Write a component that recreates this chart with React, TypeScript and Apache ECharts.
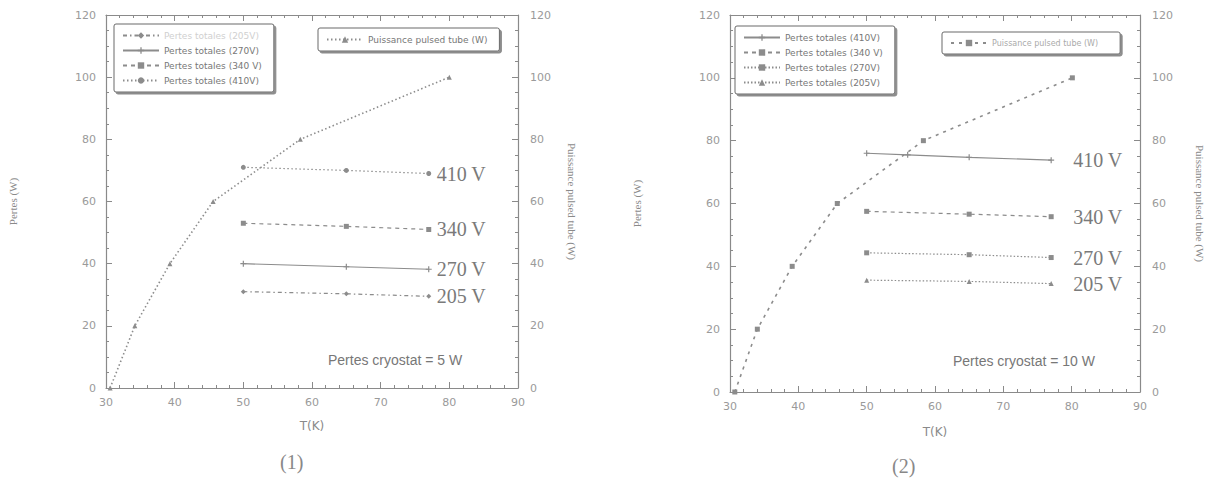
import React, { useEffect, useRef } from "react";
import * as echarts from "echarts";

// ---- Data: chart (1) ----
const T_PT_1 = [30.6, 34.2, 39.3, 45.6, 58.3, 80];
const P_PT_1 = [0, 20, 40, 60, 80, 100];
const T_V_1 = [50, 65, 77];
const L410_1 = [71, 70, 69];
const L340_1 = [53, 52, 51];
const L270_1 = [40, 39, 38.2];
const L205_1 = [31, 30.3, 29.5];

// ---- Data: chart (2) ----
const T_PT_2 = [30.7, 34.0, 39.1, 45.7, 58.3, 80.1];
const P_PT_2 = [0, 20, 40, 60, 80, 100];
const T_V_2 = [50, 65, 77];
const T_410_2 = [50, 56, 65, 77];
const L410_2 = [76, 75.5, 74.7, 73.8];
const L340_2 = [57.5, 56.6, 55.8];
const L270_2 = [44.3, 43.7, 42.8];
const L205_2 = [35.6, 35.2, 34.5];

const X_TICKS = [30, 90, 10];
const Y_TICKS = [0, 120, 20];

const zip = (xs: number[], ys: number[]) => xs.map((x, i) => [x, ys[i]]);

const AX = "#8a8a8a";
const LBL = "#9a9a9a";
const LINE = "#8c8c8c";
const SERIF = "'Liberation Serif', 'DejaVu Serif', serif";
const SANS = "'DejaVu Sans', Arial, sans-serif";
const ARIAL = "'Liberation Sans', Arial, sans-serif";
const CROSS = "path://M4,0H6V4H10V6H6V10H4V6H0V4H4Z";

function xAxis(grid: number, pos: "bottom" | "top", name?: string, gap?: number) {
  return {
    type: "value",
    gridIndex: grid,
    position: pos,
    min: X_TICKS[0],
    max: X_TICKS[1],
    interval: X_TICKS[2],
    name: name || "",
    nameLocation: "middle",
    nameGap: gap || 0,
    nameTextStyle: { color: "#8a8a8a", fontFamily: SANS, fontSize: 12 },
    axisLine: { show: true, onZero: false, lineStyle: { color: AX, width: 1.2 } },
    axisTick: { show: true, inside: true, length: 6, lineStyle: { color: AX } },
    minorTick: { show: true, splitNumber: 5, length: 3, lineStyle: { color: AX } },
    splitLine: { show: false },
    minorSplitLine: { show: false },
    axisLabel: { show: pos === "bottom", color: LBL, fontSize: 11, fontFamily: SANS, margin: 9 },
  };
}

function yAxis(grid: number, pos: "left" | "right", name: string, gap: number, rotate: number) {
  return {
    type: "value",
    gridIndex: grid,
    position: pos,
    min: Y_TICKS[0],
    max: Y_TICKS[1],
    interval: Y_TICKS[2],
    name,
    nameLocation: "middle",
    nameGap: gap,
    nameRotate: rotate,
    nameTextStyle: { color: "#8a8a8a", fontFamily: SERIF, fontSize: 11 },
    axisLine: { show: true, onZero: false, lineStyle: { color: AX, width: 1.2 } },
    axisTick: { show: true, inside: true, length: 6, lineStyle: { color: AX } },
    minorTick: { show: true, splitNumber: 4, length: 3, lineStyle: { color: AX } },
    splitLine: { show: false },
    axisLabel: { color: LBL, fontSize: 11, fontFamily: SANS, margin: pos === "left" ? 10 : 12 },
  };
}

function endLbl(text: string, dist: number) {
  return {
    show: true,
    formatter: text,
    distance: dist,
    color: "#7a7a7a",
    fontFamily: SERIF,
    fontSize: 20,
  };
}

function lineSeries(
  name: string,
  data: number[][],
  xi: number,
  yi: number,
  type: any,
  symbol: string,
  size: number,
  extra: any = {}
) {
  return {
    type: "line",
    name,
    xAxisIndex: xi,
    yAxisIndex: yi,
    data,
    symbol,
    symbolSize: size,
    showAllSymbol: true,
    itemStyle: { color: LINE },
    lineStyle: { color: LINE, width: 1.2, type },
    emphasis: { disabled: true },
    ...extra,
  };
}

const legendBase = {
  orient: "vertical",
  itemWidth: 36,
  itemHeight: 8,
  itemGap: 6,
  backgroundColor: "#fff",
  borderColor: "#6a6a6a",
  borderWidth: 1,
  borderRadius: 2,
  shadowColor: "rgba(0,0,0,0.45)",
  shadowOffsetX: 2,
  shadowOffsetY: 2,
  shadowBlur: 0,
  textStyle: { color: "#777", fontSize: 9, fontFamily: SANS },
  formatter: (n: string) => n.trim(),
  selectedMode: false,
};

export default function App() {
  const ref = useRef<HTMLDivElement>(null);
  useEffect(() => {
    if (!ref.current) return;
    const chart = echarts.init(ref.current, null, { renderer: "svg" });
    const option: any = {
      animation: false,
      backgroundColor: "#fff",
      grid: [
        { left: 106, top: 15, width: 412, height: 373 },
        { left: 730, top: 15, width: 410, height: 377 },
      ],
      xAxis: [
        xAxis(0, "bottom", "T(K)", 32),
        xAxis(0, "top"),
        xAxis(1, "bottom", "T(K)", 34),
        xAxis(1, "top"),
      ],
      yAxis: [
        yAxis(0, "left", "Pertes (W)", 88, 90),
        yAxis(0, "right", "Puissance pulsed tube (W)", 48, -90),
        yAxis(1, "left", "Pertes (W)", 88, 90),
        yAxis(1, "right", "Puissance pulsed tube (W)", 54, -90),
      ],
      legend: [
        {
          ...legendBase,
          left: 114,
          top: 24,
          padding: [7, 12, 7, 8],
          data: [
            { name: "Pertes totales (205V)", textStyle: { color: "#d0d0d0" } },
            "Pertes totales (270V)",
            "Pertes totales (340 V)",
            "Pertes totales (410V)",
          ],
        },
        {
          ...legendBase,
          left: 318,
          top: 28,
          padding: [7, 12, 7, 8],
          data: ["Puissance pulsed tube (W)"],
        },
        {
          ...legendBase,
          left: 735,
          top: 26,
          padding: [7, 12, 7, 8],
          data: [
            "Pertes totales (410V) ",
            "Pertes totales (340 V) ",
            "Pertes totales (270V) ",
            "Pertes totales (205V) ",
          ],
        },
        {
          ...legendBase,
          left: 942,
          top: 32,
          padding: [7, 22, 7, 8],
          data: [
            { name: "Puissance pulsed tube (W) ", textStyle: { color: "#aaa", fontSize: 8 } },
          ],
        },
      ],
      series: [
        // chart 1
        lineSeries("Puissance pulsed tube (W)", zip(T_PT_1, P_PT_1), 0, 1, [1.5, 2.5], "triangle", 5, {
          lineStyle: { color: LINE, width: 1.6, type: [1.5, 2.5] },
        }),
        lineSeries("Pertes totales (410V)", zip(T_V_1, L410_1), 0, 0, [1.5, 2.5], "circle", 5, {
          endLabel: endLbl("410 V", 8),
        }),
        lineSeries("Pertes totales (340 V)", zip(T_V_1, L340_1), 0, 0, [4, 4], "rect", 5, {
          endLabel: endLbl("340 V", 8),
        }),
        lineSeries("Pertes totales (270V)", zip(T_V_1, L270_1), 0, 0, "solid", CROSS, 6, {
          endLabel: endLbl("270 V", 8),
        }),
        lineSeries("Pertes totales (205V)", zip(T_V_1, L205_1), 0, 0, [4, 3, 1.5, 3], "diamond", 5, {
          endLabel: endLbl("205 V", 8),
        }),
        // chart 2
        lineSeries("Puissance pulsed tube (W) ", zip(T_PT_2, P_PT_2), 2, 3, [3, 5], "rect", 5, {
          lineStyle: { color: LINE, width: 1.6, type: [3, 5] },
        }),
        lineSeries("Pertes totales (410V) ", zip(T_410_2, L410_2), 2, 2, "solid", CROSS, 6, {
          endLabel: endLbl("410 V", 22),
        }),
        lineSeries("Pertes totales (340 V) ", zip(T_V_2, L340_2), 2, 2, [4, 4], "rect", 5, {
          endLabel: endLbl("340 V", 22),
        }),
        lineSeries("Pertes totales (270V) ", zip(T_V_2, L270_2), 2, 2, [1.5, 2], "rect", 5, {
          endLabel: endLbl("270 V", 22),
        }),
        lineSeries("Pertes totales (205V) ", zip(T_V_2, L205_2), 2, 2, [1.5, 2], "triangle", 5, {
          endLabel: endLbl("205 V", 22),
        }),
      ],
      graphic: [
        {
          type: "text",
          left: 328,
          top: 353,
          style: { text: "Pertes cryostat = 5 W", fill: "#777", font: `14px ${ARIAL}` },
        },
        {
          type: "text",
          left: 953,
          top: 354,
          style: { text: "Pertes cryostat = 10 W", fill: "#777", font: `14px ${ARIAL}` },
        },
        {
          type: "text",
          left: 280,
          top: 452,
          style: { text: "(1)", fill: "#888", font: `20px ${SERIF}` },
        },
        {
          type: "text",
          left: 892,
          top: 456,
          style: { text: "(2)", fill: "#888", font: `20px ${SERIF}` },
        },
      ],
    };
    chart.setOption(option);
    return () => chart.dispose();
  }, []);
  return (
    <div
      ref={ref}
      style={{ position: "absolute", left: 0, top: 0, width: 1210, height: 485, background: "#fff" }}
    />
  );
}
